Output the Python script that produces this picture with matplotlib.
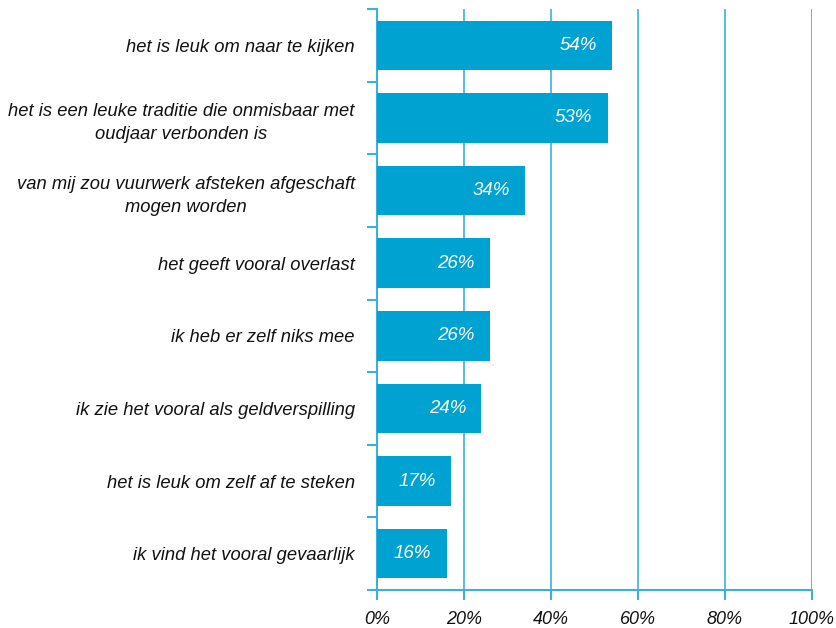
import numpy as np
import matplotlib.pyplot as plt
from matplotlib.ticker import FixedLocator

categories = [
    'het is leuk om naar te kijken',
    'het is een leuke traditie die onmisbaar met\noudjaar verbonden is',
    'van mij zou vuurwerk afsteken afgeschaft\nmogen worden',
    'het geeft vooral overlast',
    'ik heb er zelf niks mee',
    'ik zie het vooral als geldverspilling',
    'het is leuk om zelf af te steken',
    'ik vind het vooral gevaarlijk',
]
values = [54, 53, 34, 26, 26, 24, 17, 16]
xticks = [0, 20, 40, 60, 80, 100]
xticklabels = ['0%', '20%', '40%', '60%', '80%', '100%']

bar_col = '#00a2d1'
grid_col = '#3bb0dc'

plt.rcParams['font.family'] = ['Liberation Sans', 'DejaVu Sans']

fig = plt.figure(figsize=(8.36, 6.28), dpi=100)
ax = fig.add_axes([377 / 836, 1 - 590 / 628, (812 - 377) / 836, (590 - 9) / 628])

y = np.arange(len(categories))
ax.barh(y, values, height=0.68, color=bar_col, zorder=3)
for yi, v in zip(y, values):
    ax.annotate(f'{v}%', (v, yi), xytext=(-11, 0), textcoords='offset points',
                ha='right', va='center', color='white', fontsize=13.5,
                style='italic', zorder=4)

ax.set_xlim(0, 100)
ax.set_ylim(len(categories) - 0.5, -0.5)
ax.set_xticks(xticks)
ax.set_xticklabels(xticklabels, style='italic', fontsize=13, color='#111111')
ax.set_yticks(y)
ax.set_yticklabels(categories, style='italic', fontsize=13.2, color='#111111',
                   multialignment='center', linespacing=1.5)
ax.yaxis.set_minor_locator(FixedLocator(np.arange(-0.5, len(categories), 1)))

ax.tick_params(axis='y', which='major', length=0, pad=16)
ax.tick_params(axis='y', which='minor', length=7, width=1.5, color=grid_col)
ax.tick_params(axis='x', length=7, width=1.5, color=grid_col, pad=8)

for x in xticks[1:]:
    ax.axvline(x, color=grid_col, lw=1.2, zorder=1)

for s in ['top', 'right']:
    ax.spines[s].set_visible(False)
for s in ['left', 'bottom']:
    ax.spines[s].set_color(grid_col)
    ax.spines[s].set_linewidth(1.5)

fig.savefig('out.png', dpi=100)
